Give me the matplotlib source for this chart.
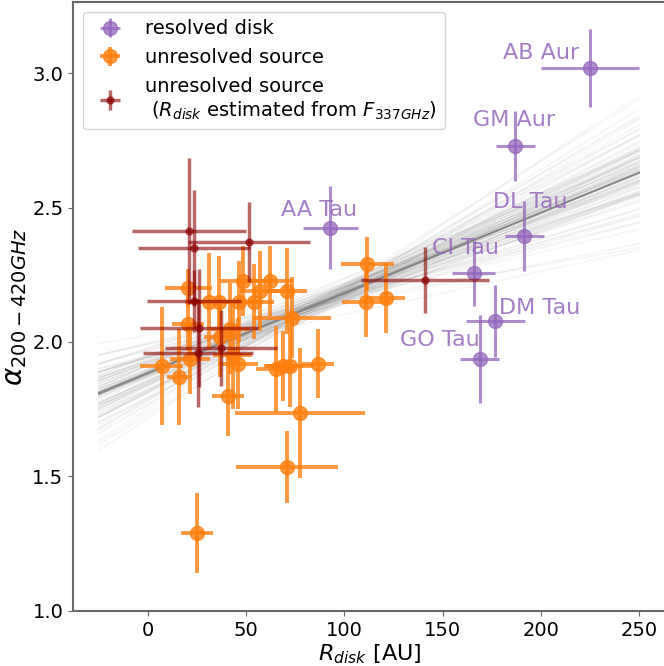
"""Spectral index alpha(200-420 GHz) versus disk radius."""

import numpy as np
from matplotlib import pyplot as plt

# resolved disks
resolved_names = ["AB Aur", "GM Aur", "DL Tau", "CI Tau", "DM Tau", "GO Tau", "AA Tau"]
resolved_r = [224.9, 187.0, 191.6, 165.8, 176.8, 168.9, 92.7]
resolved_r_err = [25, 10, 10, 11, 15, 10, 14]
resolved_alpha = [3.02, 2.73, 2.395, 2.255, 2.078, 1.937, 2.425]
resolved_alpha_err = [0.145, 0.13, 0.13, 0.12, 0.135, 0.165, 0.155]

# unresolved sources
unres_r = [20.4, 48.4, 62.0, 57.0, 70.8, 111.5, 111.0, 121.0, 31.0, 36.0,
           46.3, 54.0, 20.4, 41.8, 36.7, 73.3, 7.0, 15.8, 21.4, 43.0,
           45.8, 65.0, 68.9, 72.3, 86.6, 40.7, 77.4, 70.6, 25.0]
unres_r_err = [12, 12, 12, 10, 10, 13.5, 12, 10, 12, 10,
               12, 10, 8, 10, 8, 20, 11, 6, 10, 10,
               10, 10, 10, 12, 8, 8, 33, 26, 8]
unres_alpha = [2.20, 2.227, 2.227, 2.19, 2.19, 2.29, 2.15, 2.165, 2.15, 2.15,
               2.15, 2.15, 2.067, 2.05, 2.02, 2.09, 1.91, 1.87, 1.937, 1.95,
               1.92, 1.90, 1.91, 1.91, 1.92, 1.80, 1.736, 1.535, 1.29]
unres_alpha_err = [0.07, 0.13, 0.13, 0.15, 0.16, 0.10, 0.13, 0.13, 0.18, 0.17,
                   0.15, 0.14, 0.10, 0.17, 0.15, 0.15, 0.22, 0.18, 0.13, 0.20,
                   0.17, 0.16, 0.13, 0.15, 0.13, 0.15, 0.24, 0.135, 0.147]

# unresolved, R_disk estimated from F_337GHz
est_r = [21.0, 51.4, 23.4, 23.4, 26.0, 25.5, 37.2, 141.0]
est_r_err = [29, 31, 28.5, 24, 30, 28, 28.5, 32.5]
est_alpha = [2.413, 2.372, 2.35, 2.152, 2.052, 1.96, 1.978, 2.23]
est_alpha_err = [0.27, 0.15, 0.216, 0.115, 0.22, 0.2, 0.14, 0.123]

# linear fit: best line and posterior samples (value at R=80 AU, slope)
best_mid, best_slope = 2.123, 0.00298
sample_mid = [2.12, 2.14, 2.10, 2.13, 2.11, 2.15, 2.09, 2.12, 2.13, 2.10,
              2.14, 2.16, 2.08, 2.12, 2.11, 2.13, 2.17, 2.09, 2.12, 2.14,
              2.11, 2.13, 2.10, 2.15, 2.12, 2.07, 2.13, 2.11, 2.14, 2.12,
              2.10, 2.16, 2.12, 2.13, 2.09, 2.11, 2.14, 2.12, 2.18, 2.10,
              2.13, 2.12, 2.11, 2.15, 2.12, 2.08, 2.13, 2.14, 2.11, 2.12,
              2.10, 2.13, 2.12, 2.16, 2.11, 2.12, 2.14, 2.09, 2.13, 2.12,
              2.11, 2.15, 2.12, 2.10, 2.13, 2.14, 2.12, 2.09, 2.11, 2.13,
              2.12, 2.16, 2.10, 2.12, 2.14, 2.11, 2.13, 2.08, 2.12, 2.15,
              2.13, 2.11, 2.12, 2.10, 2.14, 2.12, 2.17, 2.11, 2.13, 2.12,
              2.09, 2.14, 2.12, 2.11, 2.13, 2.15, 2.10, 2.12, 2.13, 2.11]
sample_slope = [0.0030, 0.0027, 0.0033, 0.0025, 0.0036, 0.0029, 0.0031, 0.0022, 0.0039, 0.0028,
                0.0034, 0.0026, 0.0032, 0.0019, 0.0041, 0.0030, 0.0024, 0.0035, 0.0029, 0.0037,
                0.0021, 0.0031, 0.0027, 0.0033, 0.0046, 0.0016, 0.0030, 0.0028, 0.0032, 0.0026,
                0.0038, 0.0023, 0.0030, 0.0034, 0.0027, 0.0043, 0.0018, 0.0031, 0.0029, 0.0035,
                0.0025, 0.0033, 0.0040, 0.0028, 0.0030, 0.0036, 0.0020, 0.0032, 0.0026, 0.0034,
                0.0048, 0.0013, 0.0029, 0.0031, 0.0037, 0.0024, 0.0027, 0.0033, 0.0030, 0.0028,
                0.0032, 0.0026, 0.0035, 0.0029, 0.0023, 0.0031, 0.0042, 0.0027, 0.0033, 0.0017,
                0.0030, 0.0028, 0.0036, 0.0025, 0.0031, 0.0034, 0.0029, 0.0044, 0.0022, 0.0030,
                0.0027, 0.0033, 0.0038, 0.0026, 0.0030, 0.0021, 0.0032, 0.0029, 0.0035, 0.0028,
                0.0040, 0.0024, 0.0031, 0.0015, 0.0034, 0.0027, 0.0045, 0.0030, 0.0026, 0.0032]
fit_range = [-25, 250]

# label offsets in pixels (dx, dy)
label_offsets = [(-49, 15), (-1, 26), (6, 34), (-8, 25), (44, 13), (-40, 19), (-11, 18)]

fig = plt.figure(figsize=(6.64, 6.66), dpi=100)
ax = fig.add_axes([0.11, 0.0826, 0.895, 0.9144])

xs = np.array(fit_range, dtype=float)
for mid, slope in zip(sample_mid, sample_slope):
    ax.plot(xs, mid + slope * (xs - 80), color="gray", alpha=0.07, lw=1.2, zorder=1)
ax.plot(xs, best_mid + best_slope * (xs - 80), color="gray", alpha=0.9, lw=1.5, zorder=2)

ax.errorbar(resolved_r, resolved_alpha, xerr=resolved_r_err, yerr=resolved_alpha_err,
            fmt="o", color="tab:purple", ms=10, elinewidth=2.2, alpha=0.75,
            label="resolved disk", zorder=3)
ax.errorbar(unres_r, unres_alpha, xerr=unres_r_err, yerr=unres_alpha_err,
            fmt="o", color="tab:orange", ms=10, elinewidth=2.8, alpha=0.8,
            label="unresolved source", zorder=4)
ax.errorbar(est_r, est_alpha, xerr=est_r_err, yerr=est_alpha_err,
            fmt="o", color="darkred", ms=5, elinewidth=2.5, alpha=0.6,
            label="unresolved source\n ($R_{disk}$ estimated from $F_{337GHz}$)", zorder=5)

for name, r, a, (dx, dy) in zip(resolved_names, resolved_r, resolved_alpha, label_offsets):
    ax.annotate(name, (r, a), xytext=(dx * 0.72, dy * 0.72), textcoords="offset points",
                ha="center", va="center", fontsize=16, color="tab:purple", alpha=0.85)

ax.set_xlim(-38.2, 264.4)
ax.set_ylim(1.0, 3.264)
ax.set_xticks([0, 50, 100, 150, 200, 250])
ax.set_yticks([1.0, 1.5, 2.0, 2.5, 3.0])
ax.tick_params(labelsize=14, color="dimgray")
for spine in ax.spines.values():
    spine.set_color("dimgray")
    spine.set_linewidth(1.5)
ax.set_xlabel("$R_{disk}$ [AU]", fontsize=16, labelpad=2)
ax.set_ylabel(r"$\alpha_{200-420GHz}$", fontsize=20, labelpad=2)
ax.legend(loc="upper left", fontsize=14, handletextpad=0.8)

fig.savefig("out.png", dpi=100)
